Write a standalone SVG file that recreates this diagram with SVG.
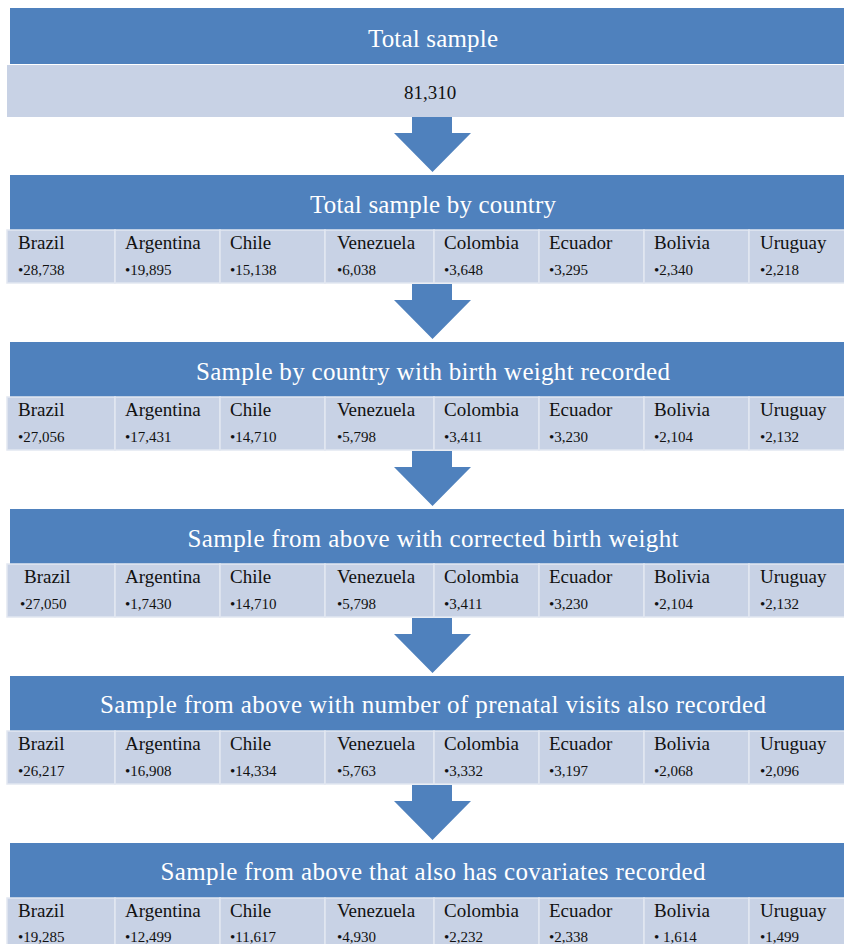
<svg xmlns="http://www.w3.org/2000/svg" width="844" height="944" viewBox="0 0 844 944">
<style>
.hd{fill:#4F81BD;}
.lt{fill:#C8D2E5;}
.cell{fill:#C8D2E5;stroke:#E2E7F1;stroke-width:1.5;}
.ttl{font-family:"Liberation Serif","Times New Roman",serif;font-size:25px;fill:#FFFFFF;text-anchor:middle;}
.nm{font-family:"Liberation Serif","Times New Roman",serif;font-size:19px;fill:#111111;}
.nu{font-family:"Liberation Serif","Times New Roman",serif;font-size:15px;fill:#111111;}
.big{font-family:"Liberation Serif","Times New Roman",serif;font-size:19px;fill:#111111;text-anchor:middle;}
.arr{fill:#4F81BD;}
</style>
<defs>
<path id="arrow" d="M412,117 L452,117 L452,133 L471,133 L432.5,172 L394,133 L412,133 Z"/>
<g id="cells">
<rect class="cell" x="7" y="0" width="108" height="53"/>
<rect class="cell" x="115" y="0" width="105" height="53"/>
<rect class="cell" x="220" y="0" width="105" height="53"/>
<rect class="cell" x="325" y="0" width="109" height="53"/>
<rect class="cell" x="434" y="0" width="105" height="53"/>
<rect class="cell" x="539" y="0" width="105" height="53"/>
<rect class="cell" x="644" y="0" width="105" height="53"/>
<rect class="cell" x="749" y="0" width="100" height="53"/>
</g>
</defs>

<g id="connectors" class="arr">
<use href="#arrow"/>
<use href="#arrow" transform="translate(0,167)"/>
<use href="#arrow" transform="translate(0,334)"/>
<use href="#arrow" transform="translate(0,501)"/>
<use href="#arrow" transform="translate(0,668)"/>
</g>

<g id="box1">
<rect class="hd" x="10" y="8" width="834" height="56"/>
<text class="ttl" x="433" y="47" textLength="130" lengthAdjust="spacing">Total sample</text>
<rect class="lt" x="7" y="65" width="837" height="52"/>
<text class="big" x="430" y="99">81,310</text>
</g>

<g id="box2">
<rect class="hd" x="10" y="175" width="834" height="55"/>
<text class="ttl" x="433" y="213" textLength="246" lengthAdjust="spacing">Total sample by country</text>
<use href="#cells" transform="translate(0,230)"/>
<g class="nm" transform="translate(0,249)">
<text x="18" y="0">Brazil</text><text x="125" y="0">Argentina</text><text x="230" y="0">Chile</text><text x="337" y="0">Venezuela</text><text x="444" y="0">Colombia</text><text x="549" y="0">Ecuador</text><text x="654" y="0">Bolivia</text><text x="760" y="0">Uruguay</text>
</g>
<g class="nu" transform="translate(0,275)">
<text x="18" y="0">•28,738</text><text x="125" y="0">•19,895</text><text x="230" y="0">•15,138</text><text x="337" y="0">•6,038</text><text x="444" y="0">•3,648</text><text x="549" y="0">•3,295</text><text x="654" y="0">•2,340</text><text x="760" y="0">•2,218</text>
</g>
</g>

<g id="box3">
<rect class="hd" x="10" y="342" width="834" height="55"/>
<text class="ttl" x="433" y="380" textLength="474" lengthAdjust="spacing">Sample by country with birth weight recorded</text>
<use href="#cells" transform="translate(0,397)"/>
<g class="nm" transform="translate(0,416)">
<text x="18" y="0">Brazil</text><text x="125" y="0">Argentina</text><text x="230" y="0">Chile</text><text x="337" y="0">Venezuela</text><text x="444" y="0">Colombia</text><text x="549" y="0">Ecuador</text><text x="654" y="0">Bolivia</text><text x="760" y="0">Uruguay</text>
</g>
<g class="nu" transform="translate(0,442)">
<text x="18" y="0">•27,056</text><text x="125" y="0">•17,431</text><text x="230" y="0">•14,710</text><text x="337" y="0">•5,798</text><text x="444" y="0">•3,411</text><text x="549" y="0">•3,230</text><text x="654" y="0">•2,104</text><text x="760" y="0">•2,132</text>
</g>
</g>

<g id="box4">
<rect class="hd" x="10" y="509" width="834" height="55"/>
<text class="ttl" x="433" y="547" textLength="491" lengthAdjust="spacing">Sample from above with corrected birth weight</text>
<use href="#cells" transform="translate(0,564)"/>
<g class="nm" transform="translate(0,583)">
<text x="24" y="0">Brazil</text><text x="125" y="0">Argentina</text><text x="230" y="0">Chile</text><text x="337" y="0">Venezuela</text><text x="444" y="0">Colombia</text><text x="549" y="0">Ecuador</text><text x="654" y="0">Bolivia</text><text x="760" y="0">Uruguay</text>
</g>
<g class="nu" transform="translate(0,609)">
<text x="20" y="0">•27,050</text><text x="125" y="0">•1,7430</text><text x="230" y="0">•14,710</text><text x="337" y="0">•5,798</text><text x="444" y="0">•3,411</text><text x="549" y="0">•3,230</text><text x="654" y="0">•2,104</text><text x="760" y="0">•2,132</text>
</g>
</g>

<g id="box5">
<rect class="hd" x="10" y="676" width="834" height="55"/>
<text class="ttl" x="433" y="713" textLength="666" lengthAdjust="spacing">Sample from above with number of prenatal visits also recorded</text>
<use href="#cells" transform="translate(0,731)"/>
<g class="nm" transform="translate(0,750)">
<text x="18" y="0">Brazil</text><text x="125" y="0">Argentina</text><text x="230" y="0">Chile</text><text x="337" y="0">Venezuela</text><text x="444" y="0">Colombia</text><text x="549" y="0">Ecuador</text><text x="654" y="0">Bolivia</text><text x="760" y="0">Uruguay</text>
</g>
<g class="nu" transform="translate(0,776)">
<text x="18" y="0">•26,217</text><text x="125" y="0">•16,908</text><text x="230" y="0">•14,334</text><text x="337" y="0">•5,763</text><text x="444" y="0">•3,332</text><text x="549" y="0">•3,197</text><text x="654" y="0">•2,068</text><text x="760" y="0">•2,096</text>
</g>
</g>

<g id="box6">
<rect class="hd" x="10" y="843" width="834" height="55"/>
<text class="ttl" x="433" y="880" textLength="545" lengthAdjust="spacing">Sample from above that also has covariates recorded</text>
<use href="#cells" transform="translate(0,898)"/>
<g class="nm" transform="translate(0,917)">
<text x="18" y="0">Brazil</text><text x="125" y="0">Argentina</text><text x="230" y="0">Chile</text><text x="337" y="0">Venezuela</text><text x="444" y="0">Colombia</text><text x="549" y="0">Ecuador</text><text x="654" y="0">Bolivia</text><text x="760" y="0">Uruguay</text>
</g>
<g class="nu" transform="translate(0,942)">
<text x="18" y="0">•19,285</text><text x="125" y="0">•12,499</text><text x="230" y="0">•11,617</text><text x="337" y="0">•4,930</text><text x="444" y="0">•2,232</text><text x="549" y="0">•2,338</text><text x="654" y="0">• 1,614</text><text x="760" y="0">•1,499</text>
</g>
</g>
</svg>
